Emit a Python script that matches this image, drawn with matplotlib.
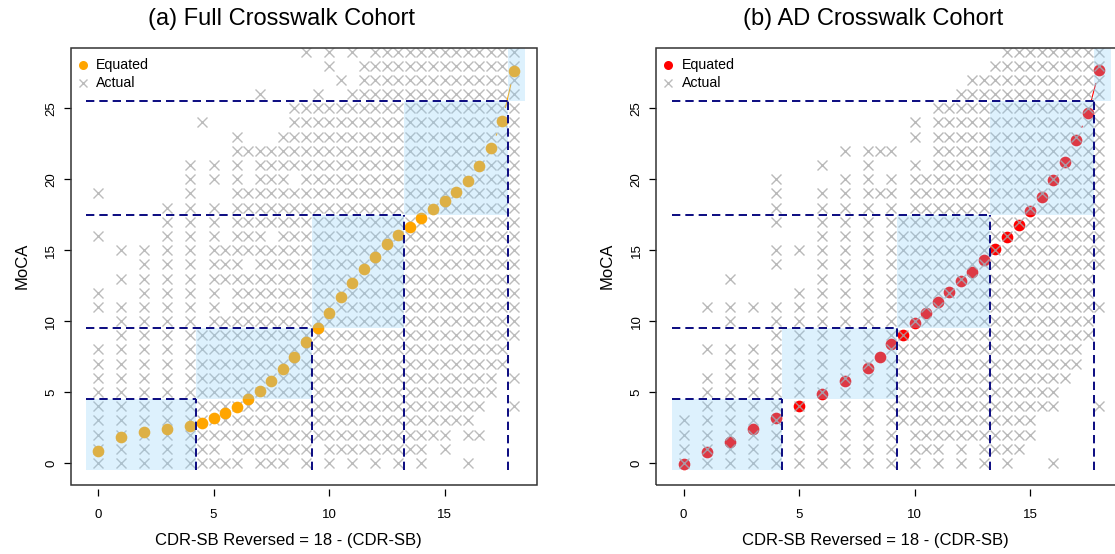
import math
import matplotlib
matplotlib.use("Agg")
import matplotlib.pyplot as plt
from matplotlib.patches import Rectangle

plt.rcParams['font.family'] = ['Liberation Sans', 'DejaVu Sans']
plt.rcParams['lines.scale_dashes'] = False

# ---------------- data ----------------
full_eq_x = [0, 1, 2, 3, 4, 4.5, 5, 5.5, 6, 6.5, 7, 7.5, 8, 8.5, 9, 9.5, 10, 10.5, 11,
             11.5, 12, 12.5, 13, 13.5, 14, 14.5, 15, 15.5, 16, 16.5, 17, 17.5, 18]
full_eq_y = [0.85, 1.81, 2.16, 2.40, 2.63, 2.84, 3.15, 3.50, 3.97, 4.49, 5.10, 5.80, 6.62,
             7.49, 8.55, 9.50, 10.6, 11.7, 12.7, 13.7, 14.5, 15.4, 16.1, 16.65, 17.3, 17.9,
             18.5, 19.1, 19.9, 20.9, 22.2, 24.1, 27.6]

ad_eq_x = [0, 1, 2, 3, 4, 5, 6, 7, 8, 8.5, 9, 9.5, 10, 10.5, 11, 11.5, 12, 12.5, 13,
           13.5, 14, 14.5, 15, 15.5, 16, 16.5, 17, 17.5, 18]
ad_eq_y = [-0.1, 0.75, 1.5, 2.37, 3.2, 4.02, 4.89, 5.78, 6.67, 7.5, 8.39, 9.04, 9.84, 10.6,
           11.37, 12.07, 12.83, 13.48, 14.3, 15.08, 15.95, 16.77, 17.76, 18.77, 19.94,
           21.24, 22.76, 24.64, 27.7]

# Actual observations: column x, runs of integer MoCA values from lo to hi
full_act_x = [0, 0, 0, 0, 1, 1, 1, 2, 3, 4, 4.5, 4.5, 5, 5, 5.5, 5.5, 5.5, 6,
              6.5, 6.5, 6.5, 7, 7, 7.5, 7.5, 8, 8.5, 8.5, 9, 9, 9.5, 10, 10, 10.5, 10.5,
              11, 11, 11.5, 12, 12.5, 13, 13.5, 14, 14.5, 15, 15.5, 16, 16, 16.5, 16.5,
              17, 17.5, 18, 18, 18]
full_act_lo = [0, 11, 16, 19, 0, 13, 15, 0, 0, 0, 0, 24, 0, 20, 0, 2, 13, 0,
               1, 15, 22, 0, 26, 0, 17, 0, 1, 21, 0, 29, 2, 0, 28, 1, 27,
               0, 29, 1, 0, 1, 0, 1, 0, 2, 1, 3, 0, 2, 2, 4,
               5, 7, 4, 6, 9]
full_act_hi = [8, 12, 16, 19, 11, 13, 15, 15, 18, 21, 9, 24, 18, 21, 0, 10, 15, 23,
               13, 19, 22, 22, 26, 15, 22, 23, 19, 25, 25, 29, 26, 25, 29, 25, 27,
               26, 29, 28, 29, 29, 29, 29, 29, 29, 29, 29, 0, 29, 2, 29,
               29, 29, 4, 6, 29]

ad_act_x = [0, 1, 1, 1, 2, 2, 2, 3, 3, 4, 4, 4, 5, 5, 6, 6, 7, 7, 8, 8.5, 8.5,
            9, 9, 9.5, 10, 10, 10.5, 11, 11.5, 12, 12.5, 13, 13.5, 14, 14.5, 15, 15.5,
            16, 16, 16.5, 17, 17.5, 18, 18, 18]
ad_act_lo = [0, 0, 8, 11, 0, 10, 13, 0, 11, 0, 14, 17, 0, 15, 0, 21, 0, 22, 0, 19, 22,
             0, 22, 3, 0, 23, 1, 0, 2, 0, 2, 0, 1, 0, 1, 2, 4,
             0, 4, 6, 7, 9, 4, 11, 14]
ad_act_hi = [3, 6, 8, 11, 8, 11, 13, 8, 11, 11, 15, 20, 12, 15, 19, 21, 20, 22, 22, 19, 22,
             20, 22, 17, 21, 24, 20, 25, 25, 26, 27, 27, 28, 29, 29, 29, 29,
             0, 29, 29, 29, 29, 4, 11, 29]

band_x = [-0.5, 4.25, 9.25, 13.25, 17.75, 18.5]
band_y = [-0.5, 4.5, 9.5, 17.5, 25.5, 29.8]

x_ticks = [0, 5, 10, 15]
y_ticks = [0, 5, 10, 15, 20, 25]

# ---------------- layout ----------------
W, H = 1115, 554
fig = plt.figure(figsize=(W / 100, H / 100), dpi=100)


def px_axes(l, t, r, b):
    return [l / W, 1 - b / H, (r - l) / W, (b - t) / H]


XLIM = (-1.17, 19.0)
YLIM = (-1.55, 29.27)
AX_W_PX, AX_H_PX = 466.0, 437.3

NAVY = '#0a0a80'
SHADE = '#87cefa'


def gapped_segments(ax, xs, ys, color, gap_px=14.0):
    sx = AX_W_PX / (XLIM[1] - XLIM[0])
    sy = AX_H_PX / (YLIM[1] - YLIM[0])
    for i in range(len(xs) - 1):
        dx, dy = xs[i + 1] - xs[i], ys[i + 1] - ys[i]
        d = math.hypot(dx * sx, dy * sy)
        if d > 2 * gap_px:
            f = gap_px / d
            ax.plot([xs[i] + dx * f, xs[i + 1] - dx * f],
                    [ys[i] + dy * f, ys[i + 1] - dy * f],
                    color=color, lw=0.8, zorder=2.5)


def draw(ax, eq_x, eq_y, color, sx, slo, shi, crosses_on_top):
    ax.set_xlim(*XLIM)
    ax.set_ylim(*YLIM)
    cx, cy = [], []
    for x, lo, hi in zip(sx, slo, shi):
        for y in range(lo, hi + 1):
            cx.append(x)
            cy.append(y)
    if crosses_on_top:
        ax.plot(cx, cy, ls='none', marker='x', ms=7.2, mew=1.0, color='#a8a8a8',
                alpha=0.8, zorder=3.5)
    else:
        ax.plot(cx, cy, ls='none', marker='x', ms=7.2, mew=1.0, color='#bcbcbc', zorder=2)
    gapped_segments(ax, eq_x, eq_y, color)
    ax.plot(eq_x, eq_y, 'o', ms=8.4, color=color, mec='none', zorder=3)
    for i in range(5):
        ax.add_patch(Rectangle((band_x[i], band_y[i]), band_x[i + 1] - band_x[i],
                               band_y[i + 1] - band_y[i], fc=SHADE, ec='none',
                               alpha=0.28, zorder=4))
    for i in range(4):
        ax.plot([band_x[0], band_x[i + 1]], [band_y[i + 1], band_y[i + 1]], color=NAVY,
                lw=1.4, dashes=(6, 3.6), zorder=5)
        ax.plot([band_x[i + 1], band_x[i + 1]], [band_y[0], band_y[i + 1]], color=NAVY,
                lw=1.4, dashes=(6, 3.6), zorder=5)

    ax.set_xticks(x_ticks)
    ax.set_yticks(y_ticks)
    ax.set_yticklabels([str(v) for v in y_ticks], rotation=90, va='center')
    ax.tick_params(direction='out', length=5, width=0.9, labelsize=9.5, color='black')
    ax.tick_params(axis='x', pad=9)
    ax.tick_params(axis='y', pad=5)
    for s in ax.spines.values():
        s.set_visible(False)
    ax.spines['bottom'].set_position(('outward', 3))
    ax.add_patch(Rectangle((0, 0), 1, 1, transform=ax.transAxes, fill=False,
                           ec='#333333', lw=1.1, clip_on=False, zorder=6))

    # legend
    ax.plot([0.025], [0.960], 'o', transform=ax.transAxes, color=color, ms=6.5,
            mec='none', clip_on=False, zorder=7)
    ax.plot([0.025], [0.9186], 'x', transform=ax.transAxes, color='#bcbcbc', ms=6,
            mew=1.0, clip_on=False, zorder=7)
    ax.text(0.054, 0.960, 'Equated', transform=ax.transAxes, fontsize=10.2,
            va='center', ha='left', zorder=7)
    ax.text(0.054, 0.9186, 'Actual', transform=ax.transAxes, fontsize=10.2,
            va='center', ha='left', zorder=7)


ax1 = fig.add_axes(px_axes(71, 47.7, 537, 485))
ax2 = fig.add_axes(px_axes(656.5, 47.7, 1122.5, 485))

draw(ax1, full_eq_x, full_eq_y, '#FFA500', full_act_x, full_act_lo, full_act_hi, False)
draw(ax2, ad_eq_x, ad_eq_y, '#FF0000', ad_act_x, ad_act_lo, ad_act_hi, True)

fig.text(281 / W, 1 - 19 / H, '(a) Full Crosswalk Cohort', ha='center', va='center',
         fontsize=17)
fig.text(873 / W, 1 - 19 / H, '(b) AD Crosswalk Cohort', ha='center', va='center',
         fontsize=17)
fig.text(288 / W, 1 - 540 / H, 'CDR-SB Reversed = 18 - (CDR-SB)', ha='center',
         va='center', fontsize=12)
fig.text(875 / W, 1 - 540 / H, 'CDR-SB Reversed = 18 - (CDR-SB)', ha='center',
         va='center', fontsize=12)
fig.text(22 / W, 1 - 266 / H, 'MoCA', ha='center', va='center', rotation=90, fontsize=12)
fig.text(607 / W, 1 - 266 / H, 'MoCA', ha='center', va='center', rotation=90, fontsize=12)

fig.savefig('out.png', dpi=100)
